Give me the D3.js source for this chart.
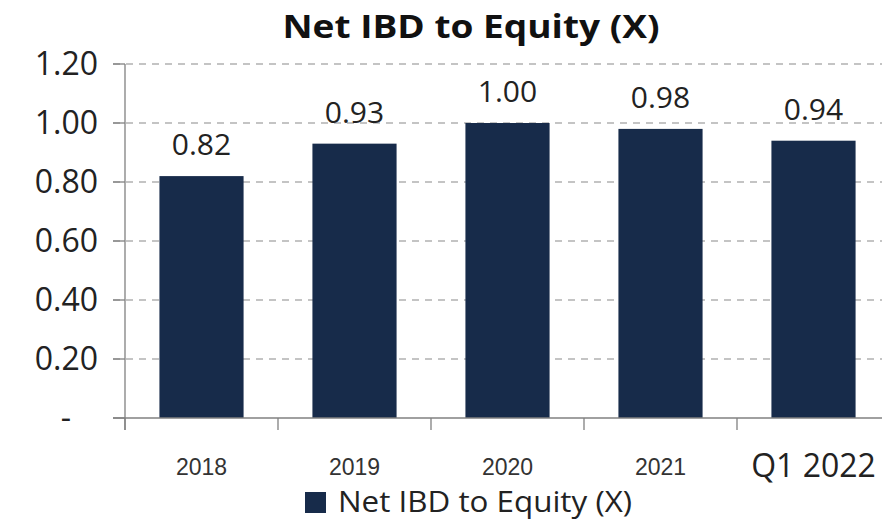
<!DOCTYPE html>
<html><head><meta charset="utf-8">
<script src="https://cdn.jsdelivr.net/npm/d3@7/dist/d3.min.js"></script>
<style>body{margin:0;background:#fff}</style>
</head><body>
<svg id="c" width="882" height="521"></svg>
<script>
const categories = ["2018","2019","2020","2021","Q1 2022"];
const values = [0.82, 0.93, 1.00, 0.98, 0.94];
const yTicks = [0, 0.2, 0.4, 0.6, 0.8, 1.0, 1.2];
const yTickLabels = ["-", "0.20", "0.40", "0.60", "0.80", "1.00", "1.20"];
const title = "Net IBD to Equity (X)";
const seriesName = "Net IBD to Equity (X)";

const svg = d3.select("#c");
const font = "'Open Sans', 'Noto Sans', sans-serif";
const barColor = "#172b4a";
const x = d3.scaleBand().domain(categories).range([125, 890]).paddingInner(0.45).paddingOuter(0.225);
const y = d3.scaleLinear().domain([0, 1.2]).range([418, 64]);

// gridlines
svg.append("g").selectAll("line").data(yTicks.filter(d => d > 0)).join("line")
  .attr("x1", 113).attr("x2", 882).attr("y1", d => y(d)).attr("y2", d => y(d))
  .attr("stroke", "#8a8a8a").attr("stroke-width", 1.2).attr("stroke-dasharray", "7,6");

// bars
svg.append("g").selectAll("rect").data(values).join("rect")
  .attr("x", (d, i) => x(categories[i])).attr("width", x.bandwidth())
  .attr("y", d => y(d)).attr("height", d => y(0) - y(d)).attr("fill", barColor);

// y axis line + ticks
svg.append("line").attr("x1", 125).attr("x2", 125).attr("y1", 64).attr("y2", 430)
  .attr("stroke", "#808080").attr("stroke-width", 1.3);
svg.append("g").selectAll("line").data(yTicks).join("line")
  .attr("x1", 113).attr("x2", 125).attr("y1", d => y(d)).attr("y2", d => y(d))
  .attr("stroke", "#808080").attr("stroke-width", 1.3);
// x axis line
svg.append("line").attr("x1", 113).attr("x2", 882).attr("y1", y(0)).attr("y2", y(0))
  .attr("stroke", "#808080").attr("stroke-width", 1.3);
svg.append("g").selectAll("line").data(categories).join("line")
  .attr("x1", d => x(d) - x.step() * x.paddingInner() / 2).attr("x2", d => x(d) - x.step() * x.paddingInner() / 2)
  .attr("y1", y(0)).attr("y2", 430)
  .attr("stroke", "#808080").attr("stroke-width", 1.3);

// y tick labels
svg.append("g").selectAll("text").data(yTicks).join("text")
  .attr("x", (d, i) => i === 0 ? 66 : 98).attr("y", d => y(d) + 11)
  .attr("text-anchor", (d, i) => i === 0 ? "middle" : "end")
  .attr("font-family", font).attr("font-size", 32).attr("fill", "#222")
  .text((d, i) => yTickLabels[i]);

// x labels
svg.append("g").selectAll("text").data(categories).join("text")
  .attr("x", d => x(d) + x.bandwidth() / 2)
  .attr("y", (d, i) => i === 4 ? 477 : 475)
  .attr("text-anchor", "middle")
  .attr("font-family", (d, i) => i === 4 ? font : "'Liberation Sans', Arial, sans-serif")
  .attr("font-size", (d, i) => i === 4 ? 32 : 23).attr("fill", (d, i) => i === 4 ? "#222" : "#333")
  .text(d => d);

// value labels
svg.append("g").selectAll("text").data(values).join("text")
  .attr("x", (d, i) => x(categories[i]) + x.bandwidth() / 2).attr("y", d => y(d) - 21)
  .attr("text-anchor", "middle").attr("font-family", font).attr("font-size", 30).attr("fill", "#222")
  .text(d => d.toFixed(2));

// title
svg.append("text").attr("x", 471).attr("y", 38).attr("text-anchor", "middle")
  .attr("font-family", font).attr("font-weight", "bold").attr("font-size", 33).attr("fill", "#111")
  .attr("textLength", 377).attr("lengthAdjust", "spacingAndGlyphs")
  .text(title);

// legend
svg.append("rect").attr("x", 305).attr("y", 492).attr("width", 21).attr("height", 21).attr("fill", barColor);
svg.append("text").attr("x", 338).attr("y", 512).attr("font-family", font).attr("font-size", 29).attr("fill", "#222")
  .attr("textLength", 294).attr("lengthAdjust", "spacingAndGlyphs")
  .text(seriesName);
</script>
</body></html>
